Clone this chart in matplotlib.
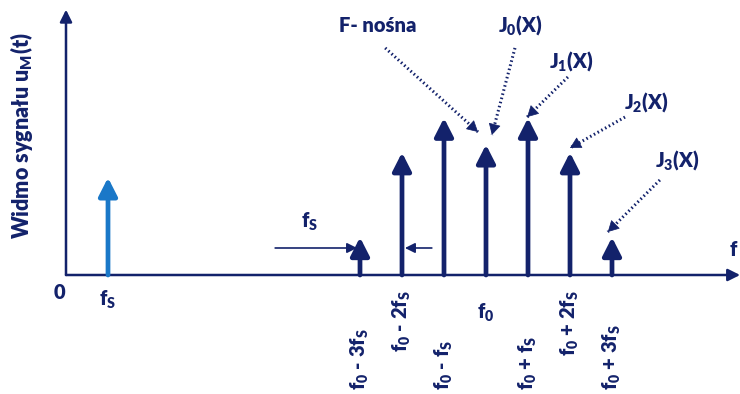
import matplotlib.pyplot as plt

plt.rcParams['font.family'] = ['Lato', 'DejaVu Sans']
plt.rcParams['mathtext.fontset'] = 'custom'
plt.rcParams['mathtext.rm'] = 'Lato:heavy'
plt.rcParams['mathtext.it'] = 'Lato:heavy'
plt.rcParams['mathtext.bf'] = 'Lato:heavy'

navy = '#13226b'
light = '#1a78c8'

# modulating tone and FM spectrum (f0 = 10 fs)
fs = 1
f0 = 10
fs_amp = 0.62
orders = [-3, -2, -1, 0, 1, 2, 3]
bessel_amp = [0.24, 0.78, 1.0, 0.83, 1.0, 0.78, 0.24]
freq_labels = [r'f$_0$ - 3f$_S$', r'f$_0$ - 2f$_S$', r'f$_0$ - f$_S$', r'f$_0$',
               r'f$_0$ + f$_S$', r'f$_0$ + 2f$_S$', r'f$_0$ + 3f$_S$']

fig = plt.figure(figsize=(7.4, 3.94), dpi=100)
ax = fig.add_axes([0, 0, 1, 1])
ax.set_xlim(-66 / 42, 674 / 42)
ax.set_ylim(-119 / 157, 275 / 157)
ax.axis('off')


def stem(x, h, color):
    ax.annotate('', xy=(x, h), xytext=(x, 0),
                arrowprops=dict(arrowstyle='-|>,head_length=0.55,head_width=0.28',
                                mutation_scale=20, lw=3.4, color=color,
                                shrinkA=0, shrinkB=0))


def pointer(x0, y0, x1, y1):
    # dotted shaft, then a small solid head at the end
    ax.plot([x0, x1], [y0, y1], color=navy, lw=2.2, linestyle=(0, (0.5, 0.9)),
            solid_capstyle='butt', dash_capstyle='butt')
    dx, dy = x1 - x0, y1 - y0
    ax.annotate('', xy=(x1, y1), xytext=(x1 - 0.08 * dx, y1 - 0.08 * dy),
                arrowprops=dict(arrowstyle='-|>,head_length=0.55,head_width=0.3',
                                mutation_scale=13, lw=0.5, color=navy,
                                shrinkA=0, shrinkB=0))


# axes
ax.annotate('', xy=(0, 1.69), xytext=(0, 0),
            arrowprops=dict(arrowstyle='-|>,head_length=0.6,head_width=0.3',
                            mutation_scale=12, lw=1.8, color=navy, shrinkA=0, shrinkB=0))
ax.annotate('', xy=(16.05, 0), xytext=(0, 0),
            arrowprops=dict(arrowstyle='-|>,head_length=0.6,head_width=0.3',
                            mutation_scale=12, lw=1.8, color=navy, shrinkA=0, shrinkB=0))

stem(fs, fs_amp, light)
for n, a in zip(orders, bessel_amp):
    stem(f0 + n * fs, a, navy)

tk = dict(color=navy, fontweight='heavy', fontsize=14.5)
ax.text(-0.15, -0.11, '0', ha='center', va='center', **tk)
ax.text(fs, -0.16, r'f$_S$', ha='center', va='center', **tk)
ax.text(15.88, 0.16, 'f', ha='center', va='center', **tk)
ax.text(-1.05, 0.89, r'Widmo sygnału u$_M$(t)', rotation=90,
        ha='center', va='center', color=navy, fontweight='heavy', fontsize=15.5)

for n, lab in zip(orders, freq_labels):
    x = f0 + n * fs
    if n == 0:
        ax.text(x, -0.24, lab, ha='center', va='center', **tk)
    elif abs(n) == 2:
        ax.text(x, -0.095, lab, rotation=90, ha='center', va='top', **tk)
    else:
        ax.text(x, -0.735, lab, rotation=90, ha='center', va='bottom', **tk)

# fs spacing marker
ax.annotate('', xy=(f0 - 3 * fs - 0.07, 0.172), xytext=(4.98, 0.172),
            arrowprops=dict(arrowstyle='-|>,head_length=0.5,head_width=0.25',
                            mutation_scale=12, lw=1.2, color=navy, shrinkA=0, shrinkB=0))
ax.annotate('', xy=(f0 - 2 * fs + 0.07, 0.172), xytext=(8.71, 0.172),
            arrowprops=dict(arrowstyle='-|>,head_length=0.5,head_width=0.25',
                            mutation_scale=12, lw=1.2, color=navy, shrinkA=0, shrinkB=0))
ax.text(5.81, 0.34, r'f$_S$', ha='center', va='center', **tk)

# callouts
ax.text(7.43, 1.59, 'F- nośna', ha='center', va='center', **tk)
ax.text(10.81, 1.59, r'J$_0$(X)', ha='center', va='center', **tk)
ax.text(12.02, 1.36, r'J$_1$(X)', ha='center', va='center', **tk)
ax.text(13.81, 1.10, r'J$_2$(X)', ha='center', va='center', **tk)
ax.text(14.55, 0.73, r'J$_3$(X)', ha='center', va='center', **tk)

pointer(7.60, 1.446, 9.81, 0.911)
pointer(10.69, 1.446, 10.14, 0.892)
pointer(11.95, 1.261, 10.98, 1.006)
pointer(13.31, 1.006, 12.0, 0.809)
pointer(14.14, 0.605, 12.90, 0.274)

fig.savefig('out.png', dpi=100)
